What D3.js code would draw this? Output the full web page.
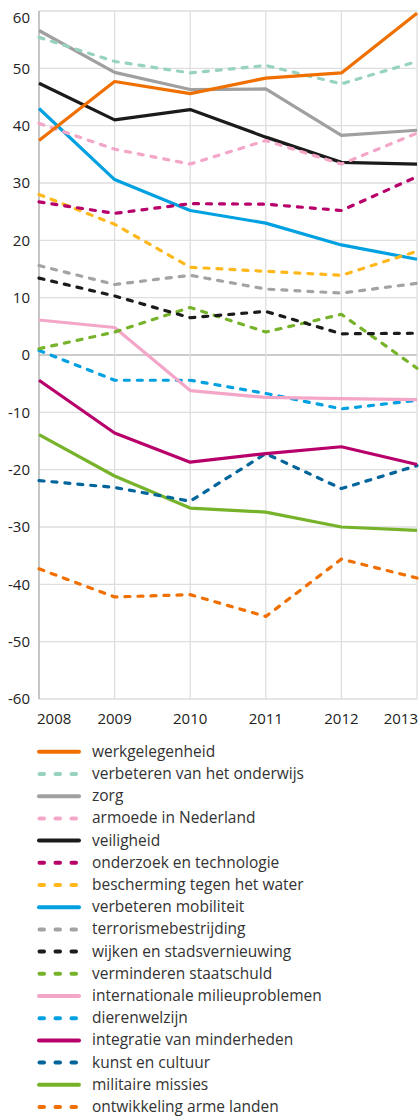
<!DOCTYPE html>
<html><head><meta charset="utf-8">
<script src="https://cdnjs.cloudflare.com/ajax/libs/d3/7.8.5/d3.min.js"></script>
<style>
html,body{margin:0;padding:0;background:#fff;}
svg{display:block;font-family:"Open Sans","Noto Sans",sans-serif;}
</style></head>
<body><svg id="c" width="419" height="1117"></svg>
<script>
const years = [2008, 2009, 2010, 2011, 2012, 2013];
const yTicks = [60, 50, 40, 30, 20, 10, 0, -10, -20, -30, -40, -50, -60];

const names = ["werkgelegenheid","verbeteren van het onderwijs","zorg","armoede in Nederland","veiligheid","onderzoek en technologie","bescherming tegen het water","verbeteren mobiliteit","terrorismebestrijding","wijken en stadsvernieuwing","verminderen staatschuld","internationale milieuproblemen","dierenwelzijn","integratie van minderheden","kunst en cultuur","militaire missies","ontwikkeling arme landen"];
const colors = ["#ef6f00","#98d3c2","#a0a0a0","#f4a6c9","#1b1b1b","#b8006a","#ffb81c","#00a0e1","#a3a3a3","#1b1b1b","#77b32a","#f4a6c9","#00a0e1","#b8006a","#01649b","#77b32a","#ef6f00"];
const dashed = [false,true,false,true,false,true,true,false,true,true,true,false,true,false,true,false,true];

const werkgelegenheid = [37.4, 47.7, 45.6, 48.3, 49.2, 59.6];
const onderwijs = [55.4, 51.2, 49.2, 50.5, 47.3, 51.2];
const zorg = [56.6, 49.3, 46.3, 46.4, 38.3, 39.2];
const armoede = [40.4, 35.9, 33.3, 37.4, 33.3, 38.7];
const veiligheid = [47.4, 41.0, 42.8, 38.0, 33.6, 33.3];
const onderzoek = [26.7, 24.7, 26.4, 26.3, 25.2, 31.1];
const water = [28.0, 22.8, 15.3, 14.6, 13.9, 18.1];
const mobiliteit = [43.0, 30.6, 25.2, 23.0, 19.2, 16.7];
const terrorisme = [15.6, 12.3, 13.9, 11.5, 10.8, 12.5];
const wijken = [13.4, 10.3, 6.5, 7.6, 3.7, 3.8];
const staatschuld = [1.1, 4.0, 8.3, 4.0, 7.1, -2.3];
const milieu = [6.1, 4.8, -6.2, -7.4, -7.6, -7.8];
const dierenwelzijn = [0.8, -4.4, -4.4, -6.7, -9.4, -7.9];
const integratie = [-4.4, -13.6, -18.7, -17.2, -16.0, -19.1];
const kunst = [-21.9, -23.1, -25.5, -17.2, -23.3, -19.3];
const militair = [-13.9, -21.1, -26.7, -27.4, -30.0, -30.6];
const ontwikkeling = [-37.3, -42.2, -41.8, -45.6, -35.6, -38.9];

const seriesValues = [werkgelegenheid, onderwijs, zorg, armoede, veiligheid, onderzoek, water, mobiliteit, terrorisme, wijken, staatschuld, milieu, dierenwelzijn, integratie, kunst, militair, ontwikkeling];

const svg = d3.select("#c");
const x = d3.scaleLinear().domain([2008, 2013]).range([39, 417]);
const y = d3.scaleLinear().domain([-60, 60]).range([699, 11]);

// grid
const g = svg.append("g");
g.selectAll("line.h").data(yTicks).join("line")
  .attr("x1", 39).attr("x2", 417)
  .attr("y1", d => y(d)).attr("y2", d => y(d))
  .attr("stroke", d => d === 0 ? "#9a9a9a" : "#dedede").attr("stroke-width", d => d === 0 ? 1.2 : 1.3);
g.selectAll("line.v").data(years).join("line")
  .attr("x1", d => x(d)).attr("x2", d => x(d))
  .attr("y1", 11).attr("y2", 699)
  .attr("stroke", (d,i) => i === 0 ? "#a8a8a8" : "#dedede").attr("stroke-width", 1.3);

// y labels
svg.append("g").selectAll("text").data(yTicks).join("text")
  .attr("x", 30).attr("y", d => Math.max(y(d), 18))
  .attr("dy", "0.36em").attr("text-anchor", "end")
  .attr("font-size", 15).attr("fill", "#222").text(d => d);

// x labels
svg.append("g").selectAll("text").data(years).join("text")
  .attr("x", (d,i) => i === 0 ? x(d) - 2 : (i === years.length - 1 ? x(d) + 1 : x(d)))
  .attr("y", 719).attr("dy", "0.36em")
  .attr("text-anchor", (d,i) => i === 0 ? "start" : (i === years.length - 1 ? "end" : "middle"))
  .attr("font-size", 15).attr("fill", "#222").text(d => d);

// lines
const line = d3.line().x((d,i) => x(years[i])).y(d => y(d));
const order = d3.range(names.length).reverse();
svg.append("g").selectAll("path").data(order).join("path")
  .attr("d", i => line(seriesValues[i]))
  .attr("fill", "none")
  .attr("stroke", i => colors[i])
  .attr("stroke-width", 3.2)
  .attr("stroke-linecap", i => dashed[i] ? "round" : "butt")
  .attr("stroke-linejoin", "round")
  .attr("stroke-dasharray", i => dashed[i] ? "5 8" : null);

// legend
const lg = svg.append("g");
const rows = lg.selectAll("g").data(names).join("g")
  .attr("transform", (d,i) => `translate(0,${751.8 + i * 22.2})`);
rows.append("line")
  .attr("x1", (d,i) => dashed[i] ? 39.5 : 39).attr("x2", (d,i) => dashed[i] ? 79.5 : 79)
  .attr("y1", 0).attr("y2", 0)
  .attr("stroke", (d,i) => colors[i]).attr("stroke-width", 4)
  .attr("stroke-linecap", "round")
  .attr("stroke-dasharray", (d,i) => dashed[i] ? "4.5 11.5" : null);
rows.append("text").attr("x", 92).attr("y", 0).attr("dy", "0.32em")
  .attr("font-size", 15.5).attr("fill", "#333").text(d => d);
</script></body></html>
